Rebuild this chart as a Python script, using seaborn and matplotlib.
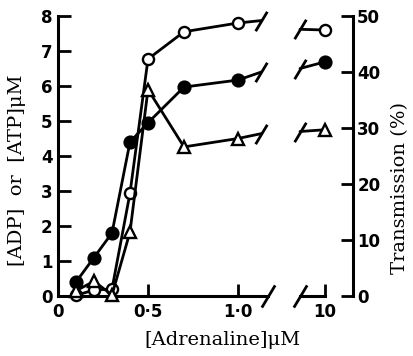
import matplotlib
matplotlib.use("Agg")
import matplotlib.pyplot as plt
from matplotlib.path import Path
import seaborn as sns

# ---- data ----
conc = [0.1, 0.2, 0.3, 0.4, 0.5, 0.7, 1.0]          # [Adrenaline] uM
filled_circles = [0.4, 1.1, 1.8, 4.4, 4.95, 5.97, 6.17]
open_circles = [0.02, 0.17, 0.2, 2.94, 6.77, 7.55, 7.8]
triangles = [0.15, 0.42, 0.03, 1.83, 5.9, 4.26, 4.5]

high_conc = 10
filled_at_10 = 6.69
open_at_10 = 7.6
triangle_at_10 = 4.75

# values where the lines meet the axis break (left and right side)
break_left_x = 1.13
break_right_x = 9.0
filled_break = [6.4, 6.5]
open_break = [7.87, 7.62]
triangle_break = [4.64, 4.7]

sns.set_style("ticks")
plt.rcParams["font.family"] = ["DejaVu Sans"]
plt.rcParams.update({
    "xtick.direction": "in", "ytick.direction": "in",
    "xtick.color": "black", "ytick.color": "black",
    "text.color": "black", "axes.edgecolor": "black",
})

W, H = 413, 356
fig = plt.figure(figsize=(W / 100, H / 100), dpi=100)

y0, y1 = 296, 16          # pixel rows of y=0 and y=8
bottom = (H - y0) / H
height = (y0 - y1) / H

ax1 = fig.add_axes([58 / W, bottom, (268 - 58) / W, height])
ax2 = fig.add_axes([300 / W, bottom, (325 - 300) / W, height])
ax3 = fig.add_axes([330 / W, bottom, (353 - 330) / W, height])

slash = Path([(-0.3, -0.5), (0.3, 0.5)], [Path.MOVETO, Path.LINETO])
lw = 2.0
series = [
    (filled_circles, filled_at_10, filled_break, "o", "black", 8.5),
    (open_circles, open_at_10, open_break, "o", "white", 8),
    (triangles, triangle_at_10, triangle_break, "^", "white", 8.5),
]

for vals, v10, brk, mk, fc, ms in series:
    # line from last point to the break
    ax1.plot([conc[-1], break_left_x], [vals[-1], brk[0]], color="black", lw=lw)
    ax1.plot([break_left_x], [brk[0]], marker=slash, ms=14, mew=lw,
             color="black", ls="none", clip_on=False)
    sns.lineplot(x=conc, y=vals, ax=ax1, color="black", lw=lw, marker=mk,
                 ms=ms, mfc=fc, mec="black", mew=1.7, clip_on=False, zorder=3)
    # right-hand segment up to 10 uM
    ax2.plot([break_right_x, high_conc], [brk[1], v10], color="black", lw=lw,
             clip_on=False)
    ax2.plot([break_right_x], [brk[1]], marker=slash, ms=14, mew=lw,
             color="black", ls="none", clip_on=False)
    ax2.plot([high_conc], [v10], marker=mk, ms=ms, mfc=fc, mec="black",
             mew=1.7, ls="none", clip_on=False, zorder=3)

tick_kw = dict(direction="in", length=9, width=2, labelsize=12,
               color="black", labelcolor="black")

# main panel
ax1.set_xlim(0, 210 / 180)
ax1.set_ylim(0, 8)
ax1.set_xticks([0, 0.5, 1.0])
ax1.set_xticklabels(["0", "0·5", "1·0"], fontweight="bold")
ax1.set_yticks(range(0, 9))
ax1.set_yticklabels([str(i) for i in range(9)], fontweight="bold")
ax1.tick_params(axis="x", pad=5, **tick_kw)
ax1.tick_params(axis="y", pad=4, **tick_kw)
for s in ["top", "right"]:
    ax1.spines[s].set_visible(False)
for s in ["left", "bottom"]:
    ax1.spines[s].set_linewidth(2.2)
ax1.plot([210 / 180], [0], marker=slash, ms=16, mew=2, color="black",
         ls="none", clip_on=False)

# panel after the break
ax2.set_xlim(break_right_x, high_conc)
ax2.set_ylim(0, 8)
ax2.set_xticks([high_conc])
ax2.set_xticklabels(["10"], fontweight="bold")
ax2.set_yticks([])
ax2.tick_params(axis="x", pad=5, **tick_kw)
for s in ["top", "right", "left"]:
    ax2.spines[s].set_visible(False)
ax2.spines["bottom"].set_linewidth(2.2)
ax2.patch.set_visible(False)
ax2.plot([break_right_x], [0], marker=slash, ms=16, mew=2, color="black",
         ls="none", clip_on=False)

# transmission axis
ax3.set_ylim(0, 50)
ax3.set_xticks([])
ax3.yaxis.tick_right()
ax3.set_yticks(range(0, 51, 10))
ax3.set_yticklabels([str(v) for v in range(0, 51, 10)], fontweight="bold")
ax3.tick_params(axis="y", pad=3, **tick_kw)
for s in ["top", "left", "bottom"]:
    ax3.spines[s].set_visible(False)
ax3.spines["right"].set_linewidth(2.2)
ax3.patch.set_visible(False)

serif = ["DejaVu Serif"]
fig.text(17 / W, 1 - 170 / H, "[ADP]  or  [ATP]μM", rotation=90, ha="center",
         va="center", fontsize=14, family=serif)
fig.text(400 / W, 1 - 188 / H, "Transmission (%)", rotation=90, ha="center",
         va="center", fontsize=14, family=serif)
fig.text(222 / W, 1 - 340 / H, "[Adrenaline]μM", ha="center", va="center",
         fontsize=14, family=serif)

fig.savefig("out.png", dpi=100)
